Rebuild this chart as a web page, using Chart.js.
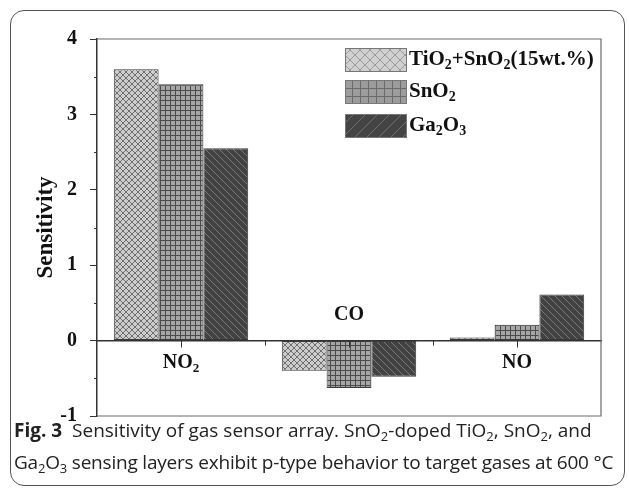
<!DOCTYPE html>
<html>
<head>
<meta charset="utf-8">
<script src="https://cdn.jsdelivr.net/npm/chart.js@4.4.1/dist/chart.umd.min.js"></script>
<style>
  html, body { margin: 0; padding: 0; background: #fff; }
  body { width: 629px; height: 488px; position: relative; overflow: hidden; }
  #frame {
    position: absolute; left: 10px; top: 10px; width: 615px; height: 476px;
    border: 1px solid #555; border-radius: 14px; box-sizing: border-box;
  }
  #wrap { position: absolute; left: 0; top: 0; width: 629px; height: 441px; }
  #caption {
    position: absolute; left: 14px; top: 414px; width: 612px;
    font-family: "Open Sans", sans-serif; font-size: 19px; line-height: 32px;
    color: #222; letter-spacing: -0.2px; white-space: nowrap;
  }
  #caption .l1 { letter-spacing: 0; }
  #caption b { font-weight: 700; }
  #caption sub { font-size: 13px; line-height: 0; vertical-align: -4px; }
</style>
</head>
<body>
<div id="frame"></div>
<div id="wrap"><canvas id="chart"></canvas></div>
<div id="caption">
  <div class="l1"><b>Fig. 3</b>&nbsp; Sensitivity of gas sensor array. SnO<sub>2</sub>-doped TiO<sub>2</sub>, SnO<sub>2</sub>, and</div>
  <div>Ga<sub>2</sub>O<sub>3</sub> sensing layers exhibit p-type behavior to target gases at 600 °C</div>
</div>
<script>
// datos
const categorias = ["NO_2", "CO", "NO"];
const series = ["TiO_2+SnO_2(15wt.%)", "SnO_2", "Ga_2O_3"];
const tio2SnO2 = [3.6, -0.4, 0.04];
const snO2 = [3.4, -0.63, 0.21];
const ga2O3 = [2.55, -0.48, 0.61];
const yMin = -1, yMax = 4;
const yMinorTicks = [-0.5, 0.5, 1.5, 2.5, 3.5];

const SERIF = "'Liberation Serif', 'Times New Roman', serif";

// patrones de relleno
function patron(tipo, s, fondo, linea, ancho) {
  const c = document.createElement("canvas");
  c.width = s; c.height = s;
  const g = c.getContext("2d");
  g.fillStyle = fondo;
  g.fillRect(0, 0, s, s);
  g.strokeStyle = linea;
  g.lineWidth = ancho;
  g.beginPath();
  if (tipo === "cruz" || tipo === "back") {
    for (const o of [-s, 0, s]) { g.moveTo(o, 0); g.lineTo(o + s, s); }
  }
  if (tipo === "cruz" || tipo === "fwd") {
    for (const o of [-s, 0, s]) { g.moveTo(o, s); g.lineTo(o + s, 0); }
  }
  if (tipo === "grid") {
    g.moveTo(0, 0.5); g.lineTo(s, 0.5);
    g.moveTo(0.5, 0); g.lineTo(0.5, s);
  }
  g.stroke();
  return document.createElement("canvas").getContext("2d").createPattern(c, "repeat");
}

const pats = [
  patron("cruz", 6, "#cdcdcd", "#6e6e6e", 1),
  patron("grid", 5, "#a6a6a6", "#4a4a4a", 1),
  patron("back", 7, "#424242", "#7a7a7a", 1),
];
const legendPats = [
  patron("cruz", 10, "#d0d0d0", "#9a9a9a", 1),
  patron("grid", 8, "#9c9c9c", "#6a6a6a", 1),
  patron("fwd", 12, "#444444", "#6e6e6e", 1),
];

// texto con subindices: "NO_2" -> NO + sub 2
function textoQuim(ctx, str, x, y, size, align) {
  const partes = [];
  const re = /_(\d)/g;
  let last = 0, m;
  while ((m = re.exec(str))) {
    if (m.index > last) partes.push([str.slice(last, m.index), false]);
    partes.push([m[1], true]);
    last = re.lastIndex;
  }
  if (last < str.length) partes.push([str.slice(last), false]);
  const fNorm = "bold " + size + "px " + SERIF;
  const fSub = "bold " + Math.round(size * 0.65) + "px " + SERIF;
  let total = 0;
  partes.forEach(p => { ctx.font = p[1] ? fSub : fNorm; total += ctx.measureText(p[0]).width; });
  let cx = align === "center" ? x - total / 2 : x;
  ctx.textAlign = "left";
  ctx.textBaseline = "middle";
  partes.forEach(p => {
    ctx.font = p[1] ? fSub : fNorm;
    ctx.fillText(p[0], cx, p[1] ? y + size * 0.3 : y);
    cx += ctx.measureText(p[0]).width;
  });
}

const extras = {
  id: "extras",
  afterDraw(chart) {
    const { ctx, chartArea: a, scales } = chart;
    const x = scales.x, y = scales.y;
    const y0 = y.getPixelForValue(0);
    ctx.save();
    // marco del area
    ctx.strokeStyle = "#6a6a6a";
    ctx.lineWidth = 1.2;
    ctx.beginPath();
    ctx.moveTo(a.left, a.top); ctx.lineTo(a.right, a.top);
    ctx.lineTo(a.right, a.bottom); ctx.lineTo(a.left, a.bottom);
    ctx.stroke();
    // ticks menores del eje y
    ctx.strokeStyle = "#333";
    ctx.lineWidth = 1;
    ctx.beginPath();
    yMinorTicks.forEach(v => {
      const py = Math.round(y.getPixelForValue(v)) + 0.5;
      ctx.moveTo(a.left - 3, py); ctx.lineTo(a.left, py);
    });
    // ticks del eje x (centros y limites)
    categorias.forEach((c, i) => {
      const px = Math.round(x.getPixelForValue(i)) + 0.5;
      ctx.moveTo(px, y0); ctx.lineTo(px, y0 + 7);
      if (i > 0) {
        const pb = Math.round((x.getPixelForValue(i) + x.getPixelForValue(i - 1)) / 2) + 0.5;
        ctx.moveTo(pb, y0); ctx.lineTo(pb, y0 + 5);
      }
    });
    ctx.stroke();
    // etiquetas de categoria junto al cero
    ctx.fillStyle = "#111";
    categorias.forEach((c, i) => {
      const vals = chart.data.datasets.map(d => d.data[i]);
      const negativo = vals.every(v => v < 0);
      const py = negativo ? y0 - 26 : y0 + 22;
      textoQuim(ctx, c, x.getPixelForValue(i), py, 20, "center");
    });
    // leyenda
    const lx = 345, lw = 61, lh = 23, tops = [48, 80, 114];
    series.forEach((s, i) => {
      ctx.fillStyle = legendPats[i];
      ctx.fillRect(lx, tops[i], lw, lh);
      ctx.strokeStyle = "#777";
      ctx.lineWidth = 1;
      ctx.strokeRect(lx + 0.5, tops[i] + 0.5, lw, lh);
      ctx.fillStyle = "#111";
      textoQuim(ctx, s, lx + lw + 3, tops[i] + lh / 2, 21, "left");
    });
    ctx.restore();
  }
};

const colores = [tio2SnO2, snO2, ga2O3];
new Chart(document.getElementById("chart"), {
  type: "bar",
  data: {
    labels: categorias,
    datasets: colores.map((d, i) => ({
      label: series[i],
      data: d,
      backgroundColor: pats[i],
      borderColor: "#3a3a3a",
      borderWidth: 1,
      borderSkipped: false,
      barPercentage: 1,
      categoryPercentage: 0.8,
    })),
  },
  plugins: [extras],
  options: {
    responsive: true,
    maintainAspectRatio: false,
    animation: false,
    layout: { padding: { left: 0, right: 28, top: 39, bottom: 11 } },
    plugins: { legend: { display: false }, tooltip: { enabled: false } },
    scales: {
      x: {
        type: "category",
        position: { y: 0 },
        afterFit(scale) { scale.height = 0; },
        grid: { display: false },
        ticks: { display: false },
        border: { display: true, color: "#333", width: 1.5 },
      },
      y: {
        min: yMin,
        max: yMax,
        afterFit(scale) { scale.width = 97; },
        ticks: {
          stepSize: 1,
          padding: 13,
          color: "#111",
          font: { family: SERIF, size: 20, weight: "bold" },
        },
        grid: { drawOnChartArea: false, tickLength: 7, color: "#333" },
        border: { color: "#333", width: 1.5 },
        title: {
          display: true,
          text: "Sensitivity",
          color: "#111",
          padding: { top: 32, bottom: 0 },
          font: { family: SERIF, size: 23, weight: "bold" },
        },
      },
    },
  },
});
</script>
</body>
</html>
